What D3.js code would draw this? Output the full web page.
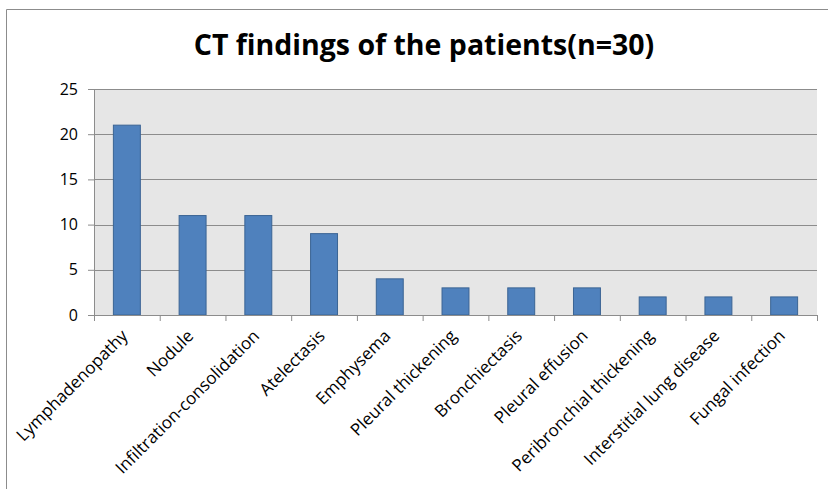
<!DOCTYPE html>
<html>
<head>
<meta charset="utf-8">
<script src="https://cdn.jsdelivr.net/npm/d3@7"></script>
<style>
  html, body { margin: 0; padding: 0; background: #fff; overflow: hidden; }
  svg { display: block; }
  text { font-family: "Open Sans", "Liberation Sans", sans-serif; fill: #000; }
</style>
</head>
<body>
<svg id="chart" width="828" height="489"></svg>
<script>
const categories = [
  "Lymphadenopathy", "Nodule", "Infiltration-consolidation", "Atelectasis",
  "Emphysema", "Pleural thickening", "Bronchiectasis", "Pleural effusion",
  "Peribronchial thickening", "Interstitial lung disease", "Fungal infection"
];
const counts = [21, 11, 11, 9, 4, 3, 3, 3, 2, 2, 2];
const yTicks = [0, 5, 10, 15, 20, 25];
const title = "CT findings of the patients(n=30)";

const margin = { top: 89, right: 11, bottom: 174, left: 94 };
const width = 828, height = 489;
const innerWidth = width - margin.left - margin.right;
const innerHeight = height - margin.top - margin.bottom;

const svg = d3.select("#chart");

// outer chart border (only top and left edges are inside the picture)
svg.append("path")
  .attr("d", `M6.5,${height} V9.5 H${width}`)
  .attr("fill", "none")
  .attr("stroke", "#8c8c8c");

svg.append("text")
  .attr("x", 424).attr("y", 55)
  .attr("text-anchor", "middle")
  .style("font-size", "28.5px")
  .style("font-weight", "bold")
  .text(title);

const g = svg.append("g").attr("transform", `translate(${margin.left},${margin.top})`);

const x = d3.scaleBand().domain(categories).range([0, innerWidth]).paddingInner(0.59).paddingOuter(0.295);
const xTick = d3.scaleLinear().domain([0, categories.length]).range([0, innerWidth]);
const y = d3.scaleLinear().domain([0, 25]).range([innerHeight, 0]);

g.append("rect")
  .attr("width", innerWidth).attr("height", innerHeight)
  .attr("fill", "#e6e6e6");

// gridlines
g.append("g")
  .selectAll("line")
  .data(yTicks.filter(d => d > 0))
  .join("line")
  .attr("x1", 0).attr("x2", innerWidth)
  .attr("y1", d => Math.round(y(d)) + 0.5).attr("y2", d => Math.round(y(d)) + 0.5)
  .attr("stroke", "#8c8c8c");

// y axis
const yAxis = g.append("g")
  .call(d3.axisLeft(y).tickValues(yTicks).tickSize(6).tickPadding(10));
yAxis.select(".domain").attr("stroke", "#8c8c8c");
yAxis.selectAll(".tick line").attr("stroke", "#8c8c8c");
yAxis.selectAll(".tick text").style("font-size", "16px").attr("fill", "#000");

// bars
g.selectAll(".bar")
  .data(counts)
  .join("rect")
  .attr("class", "bar")
  .attr("x", (d, i) => x(categories[i]))
  .attr("width", x.bandwidth())
  .attr("y", d => y(d))
  .attr("height", d => innerHeight - y(d))
  .attr("fill", "#4f81bd")
  .attr("stroke", "#3b6494")
  .attr("stroke-width", 1);

// x axis with ticks between categories
const xAxis = g.append("g")
  .attr("transform", `translate(0,${innerHeight})`)
  .call(d3.axisBottom(xTick).tickValues(d3.range(categories.length + 1)).tickSize(6).tickFormat(""));
xAxis.select(".domain").attr("stroke", "#8c8c8c");
xAxis.selectAll(".tick line").attr("stroke", "#8c8c8c");

// rotated category labels
g.append("g")
  .selectAll("text")
  .data(categories)
  .join("text")
  .attr("transform", d => `translate(${x(d) + x.bandwidth() / 2 + 2},${innerHeight + 22}) rotate(-45)`)
  .attr("text-anchor", "end")
  .style("font-size", "17px")
  .text(d => d);
</script>
</body>
</html>
